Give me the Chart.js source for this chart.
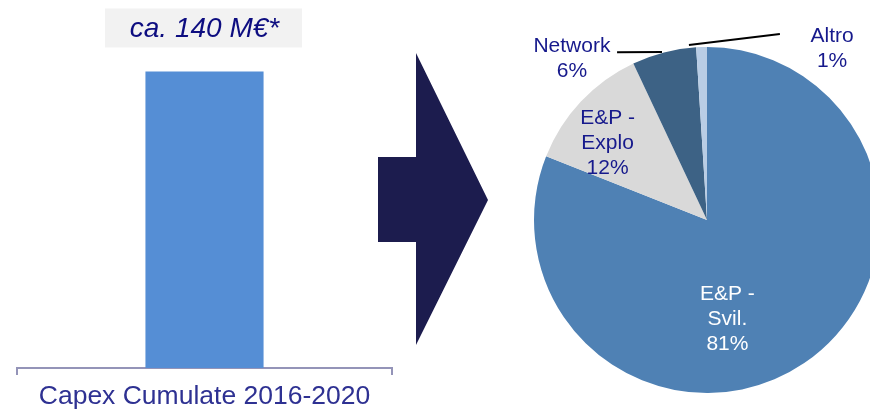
<!DOCTYPE html>
<html>
<head>
<meta charset="utf-8">
<script src="https://cdn.jsdelivr.net/npm/chart.js@4"></script>
<style>
  html, body { margin: 0; padding: 0; width: 870px; height: 410px; overflow: hidden; background: #fff; }
  #barCanvas { position: absolute; left: 0; top: 0; }
  #pieCanvas { position: absolute; left: 500px; top: 0; }
  #arrow {
    position: absolute; left: 378px; top: 53px; width: 110px; height: 292px; background: #1C1C4E;
    clip-path: polygon(0 104px, 38px 104px, 38px 0, 110px 147px, 38px 292px, 38px 189px, 0 189px);
  }
</style>
</head>
<body>
<canvas id="barCanvas" width="500" height="410"></canvas>
<div id="arrow"></div>
<canvas id="pieCanvas" width="414" height="410"></canvas>
<script>
// Dati
const barCategories = ['Capex Cumulate 2016-2020'];
const barValues = [140];
const barValueLabels = ['ca. 140 M€*'];

const pieCategories = [['E&P -', 'Svil.'], ['E&P -', 'Explo'], ['Network'], ['Altro']];
const pieValues = [81, 12, 6, 1];

const FONT = '"Liberation Sans", Arial, sans-serif';
const NAVY = '#16198C';
const AXIS = '#9494B8';

Chart.defaults.font.family = FONT;

// Etichetta del valore sopra la barra (riquadro grigio)
const barValueLabelPlugin = {
  id: 'barValueLabel',
  afterDatasetsDraw(chart) {
    const { ctx } = chart;
    chart.getDatasetMeta(0).data.forEach((bar, i) => {
      const boxW = 197;
      const boxH = 39;
      const bx = bar.x - 1 - boxW / 2;
      const by = bar.y - 24 - boxH;
      ctx.save();
      ctx.fillStyle = '#F2F2F2';
      ctx.fillRect(bx, by, boxW, boxH);
      ctx.font = 'italic 28px ' + FONT;
      ctx.fillStyle = '#0D0D80';
      ctx.textAlign = 'center';
      ctx.textBaseline = 'middle';
      ctx.fillText(barValueLabels[i], bar.x, by + boxH / 2 + 1);
      ctx.restore();
    });
  },
};

// Posizione etichette torta: angolo (gradi, orario dall'alto) e raggio relativo
const pieLabelPlacement = [
  { angle: 168.4, radius: 0.587, color: '#FFFFFF' },
  { angle: 307.8, radius: 0.727, color: NAVY },
  { angle: 320.1, radius: 1.217, color: NAVY, leader: [[345.0, 1.005], [331.8, 1.10]] },
  { angle: 36.1, radius: 1.227, color: NAVY, leader: [[354.1, 1.017], [21.4, 1.155]] },
];

const pieLabelPlugin = {
  id: 'pieLabels',
  afterDatasetsDraw(chart) {
    const { ctx } = chart;
    const polar = (arc, angleDeg, r) => {
      const a = (angleDeg * Math.PI) / 180;
      return [arc.x + r * arc.outerRadius * Math.sin(a), arc.y - r * arc.outerRadius * Math.cos(a)];
    };
    chart.getDatasetMeta(0).data.forEach((arc, i) => {
      const place = pieLabelPlacement[i];
      const lines = [...pieCategories[i], pieValues[i] + '%'];
      ctx.save();
      if (place.leader) {
        const [p1, p2] = place.leader.map(([ang, r]) => polar(arc, ang, r));
        ctx.strokeStyle = '#000000';
        ctx.lineWidth = 2;
        ctx.beginPath();
        ctx.moveTo(p1[0], p1[1]);
        ctx.lineTo(p2[0], p2[1]);
        ctx.stroke();
      }
      const [cx, cy] = polar(arc, place.angle, place.radius);
      const lineH = 25;
      ctx.font = '21px ' + FONT;
      ctx.fillStyle = place.color;
      ctx.textAlign = 'center';
      ctx.textBaseline = 'middle';
      lines.forEach((t, k) => {
        ctx.fillText(t, cx, cy + (k - (lines.length - 1) / 2) * lineH);
      });
      ctx.restore();
    });
  },
};

new Chart(document.getElementById('barCanvas').getContext('2d'), {
  type: 'bar',
  data: {
    labels: barCategories,
    datasets: [{
      data: barValues,
      backgroundColor: '#558ED5',
      borderWidth: 0,
      categoryPercentage: 1,
      barPercentage: 0.315,
    }],
  },
  options: {
    responsive: false,
    animation: false,
    events: [],
    layout: { padding: { left: 17, right: 108, top: 10, bottom: 0 } },
    plugins: { legend: { display: false }, tooltip: { enabled: false } },
    scales: {
      x: {
        grid: { drawOnChartArea: false, drawTicks: true, tickLength: 7, color: AXIS, lineWidth: 2 },
        border: { display: true, color: AXIS, width: 2 },
        ticks: { color: '#2E3192', font: { size: 26.5 }, padding: 6, maxRotation: 0 },
        afterFit: (scale) => { scale.height = 42; },
      },
      y: { display: false, min: 0, max: 169 },
    },
  },
  plugins: [barValueLabelPlugin],
});

new Chart(document.getElementById('pieCanvas').getContext('2d'), {
  type: 'pie',
  data: {
    labels: pieCategories,
    datasets: [{
      data: pieValues,
      backgroundColor: ['#4F81B4', '#D9D9D9', '#3D6285', '#B9CDE5'],
      borderWidth: 0,
      hoverOffset: 0,
    }],
  },
  options: {
    responsive: false,
    animation: false,
    events: [],
    layout: { padding: { left: 34, right: 34, top: 47, bottom: 17 } },
    plugins: { legend: { display: false }, tooltip: { enabled: false } },
  },
  plugins: [pieLabelPlugin],
});
</script>
</body>
</html>
